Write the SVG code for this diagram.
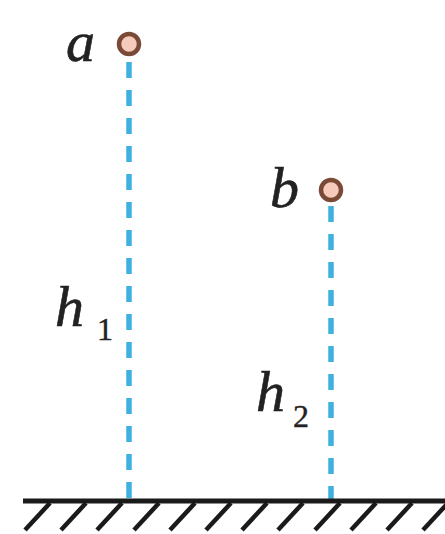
<svg xmlns="http://www.w3.org/2000/svg" width="445" height="534" viewBox="0 0 445 534">
<style>
.lbl{font-family:"Liberation Serif","DejaVu Serif",serif;font-style:italic;font-size:58px;fill:#222;stroke:#222;stroke-width:0.6}
.sub{font-family:"Liberation Serif","DejaVu Serif",serif;font-size:32px;fill:#222;stroke:#222;stroke-width:0.4}
.dash{stroke:#3fb0e0;stroke-width:5.5;stroke-dasharray:16 12;fill:none}
.ball{fill:#f6cbbb;stroke:#7a4a36;stroke-width:4.5}
.hatch{stroke:#1a1a1a;stroke-width:4.5}
</style>
<rect width="445" height="534" fill="#fff"/>
<g id="connectors">
<line class="dash" x1="129" y1="62" x2="129" y2="500"/>
<line class="dash" x1="331" y1="206" x2="331" y2="500"/>
</g>
<g id="ground">
<line x1="23" y1="501" x2="445" y2="501" stroke="#1a1a1a" stroke-width="5"/>
<g class="hatch">
<line x1="50" y1="503" x2="25" y2="530"/>
<line x1="86" y1="503" x2="61" y2="530"/>
<line x1="122" y1="503" x2="97" y2="530"/>
<line x1="159" y1="503" x2="134" y2="530"/>
<line x1="195" y1="503" x2="170" y2="530"/>
<line x1="231" y1="503" x2="206" y2="530"/>
<line x1="267" y1="503" x2="242" y2="530"/>
<line x1="303" y1="503" x2="278" y2="530"/>
<line x1="340" y1="503" x2="315" y2="530"/>
<line x1="376" y1="503" x2="351" y2="530"/>
<line x1="412" y1="503" x2="387" y2="530"/>
<line x1="448" y1="503" x2="423" y2="530"/>
</g>
</g>
<g id="a">
<circle class="ball" cx="129" cy="44" r="10"/>
<text class="lbl" x="66" y="61">a</text>
</g>
<g id="b">
<circle class="ball" cx="331" cy="190" r="10"/>
<text class="lbl" x="270" y="207">b</text>
</g>
<g id="h1">
<text class="lbl" x="55" y="326">h</text>
<text class="sub" x="97" y="340">1</text>
</g>
<g id="h2">
<text class="lbl" x="256" y="411">h</text>
<text class="sub" x="293" y="427">2</text>
</g>
</svg>
